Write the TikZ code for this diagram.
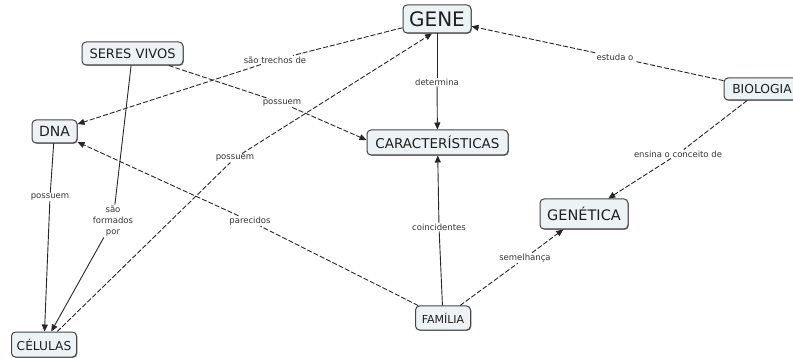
\documentclass[tikz,border=0pt]{standalone}
\usepackage{fontspec}
\setmainfont{DejaVu Sans}
\usetikzlibrary{arrows.meta,shadows}
\definecolor{conceptfill}{HTML}{EDF3F5}
\definecolor{conceptline}{HTML}{454545}
\tikzset{
  concept/.style={draw=conceptline, line width=1pt, fill=conceptfill,
    rounded corners=4pt, inner sep=0pt, text=black!88,
    drop shadow={shadow xshift=0.8pt, shadow yshift=-0.8pt, fill=black!50, opacity=1}},
  linklabel/.style={fill=white, inner sep=1pt, text=black!80,
    font=\fontsize{8.5}{9.5}\selectfont, align=center},
  link/.style={draw=black!85, line width=0.9pt},
  dlink/.style={link, dash pattern=on 5pt off 2pt},
  tip/.style={-{Triangle[length=7pt,width=6pt]}},
}
\begin{document}
\begin{tikzpicture}[x=1pt,y=-1pt]
\useasboundingbox (0,0) rectangle (793,358);
\clip (0,0) rectangle (793,358);

% concepts
\node[concept, minimum width=68, minimum height=28, font=\fontsize{20}{22}\selectfont] (gene) at (437,19) {GENE};
\node[concept, minimum width=101, minimum height=23, font=\fontsize{13}{15}\selectfont] (seres) at (132.5,53.5) {SERES VIVOS};
\node[concept, minimum width=45, minimum height=23, font=\fontsize{14}{16}\selectfont] (dna) at (54.5,131.5) {DNA};
\node[concept, minimum width=141, minimum height=25, font=\fontsize{13.5}{15}\selectfont] (car) at (437.5,142.5) {CARACTERÍSTICAS};
\node[concept, minimum width=76, minimum height=22, font=\fontsize{12.3}{14}\selectfont] (bio) at (762,89) {BIOLOGIA};
\node[concept, minimum width=88, minimum height=30, font=\fontsize{14.5}{16}\selectfont] (genet) at (584,214) {GENÉTICA};
\node[concept, minimum width=55, minimum height=24, font=\fontsize{11}{13}\selectfont] (fam) at (443,318) {FAMÍLIA};
\node[concept, minimum width=65, minimum height=25, font=\fontsize{12.2}{14}\selectfont] (cel) at (44,344.5) {CÉLULAS};

% linking phrases
\node[linklabel] (l1) at (275,60) {são trechos de};
\node[linklabel] (l2) at (282,103) {possuem};
\node[linklabel] (l3) at (235,158) {possuem};
\node[linklabel] (l4) at (437,82) {determina};
\node[linklabel] (l5) at (615,57) {estuda o};
\node[linklabel] (l6) at (678,154) {ensina o conceito de};
\node[linklabel] (l7) at (50,197) {possuem};
\node[linklabel, font=\fontsize{8.5}{11}\selectfont] (l8) at (113,221) {são\\formados\\por};
\node[linklabel] (l9) at (250,221) {parecidos};
\node[linklabel] (l10) at (439,227) {coincidentes};
\node[linklabel] (l11) at (525,258) {semelhança};

% connectors
\draw[dlink] (gene) -- (l1);
\draw[dlink, tip] (l1) -- (dna);

\draw[dlink] (seres) -- (l2);
\draw[dlink, tip] (l2) -- ([yshift=2.5pt]car.west);

\draw[dlink] (cel) -- (l3);
\draw[dlink, tip] (l3) -- ([xshift=-5pt]gene.south);

\draw[link] (gene) -- (l4);
\draw[link, tip] (l4) -- (car);

\draw[dlink] (bio) -- (l5);
\draw[dlink, tip] (l5) -- (gene);

\draw[dlink] (bio) -- (l6);
\draw[dlink, tip] (l6) -- (genet);

\draw[link] (dna) -- (l7);
\draw[link, tip] (l7) -- (cel);

\draw[link] (seres) -- (l8);
\draw[link, tip] (l8) -- (cel);

\draw[dlink] (fam) -- (l9);
\draw[dlink, tip] (l9) -- (dna);

\draw[link] (fam) -- (l10);
\draw[link, tip] (l10) -- (car);

\draw[dlink] (fam) -- (l11);
\draw[dlink, tip] (l11) -- (genet);
\end{tikzpicture}
\end{document}
